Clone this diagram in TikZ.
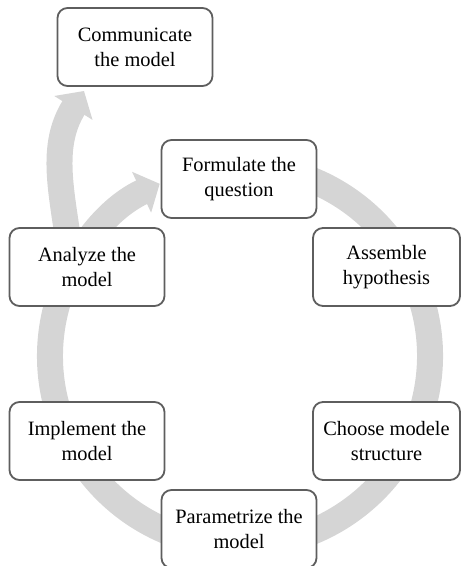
\documentclass[tikz,border=0pt]{standalone}
\usepackage{fontspec}
\setmainfont{Liberation Serif}
\usetikzlibrary{arrows.meta}
\definecolor{ring}{HTML}{D5D5D5}
\definecolor{edge}{HTML}{5E5E5E}

\begin{document}
\begin{tikzpicture}[x=0.5pt, y=0.5pt, font=\fontsize{10.2}{12.6}\selectfont,
          stage/.style={draw=edge, line width=0.9pt, fill=white, rounded corners=5pt,
                        align=center, minimum width=77.5pt, minimum height=39pt, inner sep=2pt},
          flow/.style={ring, line width=13pt, -{Triangle[width=22pt, length=10pt]}}]
        \clip (0,0) rectangle (461,566);
        % centre of the cycle
        \coordinate (c) at (240,210);
        % the cycle, clockwise, ending back at the question
        \draw[flow] (c) ++(80:190) arc[start angle=80, end angle=-245, radius=190];
        % way out towards communicating the model
        \coordinate (exit) at (72,296);
        \coordinate (tip) at (84,475);
        \draw[flow] (exit) to[out=96, in=238] (tip);
        % stages of the cycle
        \node[stage] (form) at (239,387) {Formulate the\\question};
        \node[stage, minimum width=73.5pt] (asm) at (386.5,299) {Assemble\\hypothesis};
        \node[stage, minimum width=73.5pt] (struct) at (386.5,125) {Choose modele\\structure};
        \node[stage] (param) at (239,37) {Parametrize the\\model};
        \node[stage] (impl) at (87,125) {Implement the\\model};
        \node[stage] (anal) at (87,299) {Analyze the\\model};
        % outcome
        \node[stage] (comm) at (135,519) {Communicate\\the model};
      \end{tikzpicture}
\end{document}
